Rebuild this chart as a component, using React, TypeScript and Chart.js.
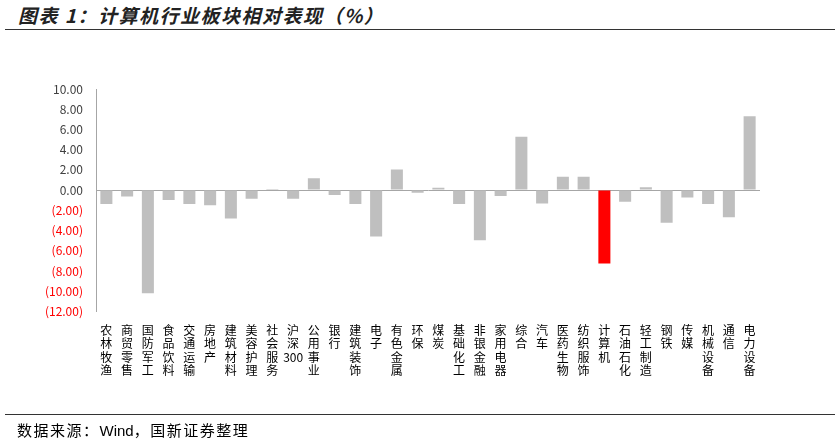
import React, { useEffect, useRef } from "react";
import { Chart, registerables } from "chart.js";

Chart.register(...registerables);

const categories: string[] = [
  "农林牧渔", "商贸零售", "国防军工", "食品饮料", "交通运输", "房地产", "建筑材料", "美容护理",
  "社会服务", "沪深300", "公用事业", "银行", "建筑装饰", "电子", "有色金属", "环保",
  "煤炭", "基础化工", "非银金融", "家用电器", "综合", "汽车", "医药生物", "纺织服饰",
  "计算机", "石油石化", "轻工制造", "钢铁", "传媒", "机械设备", "通信", "电力设备",
];

const values: number[] = [
  -1.38, -0.63, -10.2, -0.98, -1.38, -1.51, -2.82, -0.86,
  0.02, -0.86, 1.18, -0.49, -1.38, -4.6, 2.03, -0.27,
  0.23, -1.38, -4.95, -0.59, 5.27, -1.32, 1.31, 1.31,
  -7.25, -1.15, 0.29, -3.22, -0.73, -1.38, -2.69, 7.3,
];

const highlight = "计算机";
const yMin = -12;
const yMax = 10;
const yStep = 2;

function splitLabel(s: string): string[] {
  const out: string[] = [];
  let buf = "";
  for (const ch of s) {
    if (/[0-9]/.test(ch)) {
      buf += ch;
    } else {
      if (buf) { out.push(buf); buf = ""; }
      out.push(ch);
    }
  }
  if (buf) out.push(buf);
  return out;
}

export default function App() {
  const ref = useRef<HTMLCanvasElement | null>(null);

  useEffect(() => {
    if (!ref.current) return;
    const chart = new Chart(ref.current, {
      type: "bar",
      data: {
        labels: categories.map(splitLabel),
        datasets: [
          {
            data: values,
            backgroundColor: categories.map((c) => (c === highlight ? "#FF0000" : "#BFBFBF")),
            borderWidth: 0,
            categoryPercentage: 1,
            barPercentage: 0.58,
          },
        ],
      },
      options: {
        animation: false,
        responsive: false,
        maintainAspectRatio: false,
        layout: { padding: { top: 89, right: 80, left: 0, bottom: 0 } },
        plugins: { legend: { display: false }, tooltip: { enabled: false } },
        scales: {
          x: {
            grid: { display: false },
            border: { display: false },
            ticks: {
              autoSkip: false,
              maxRotation: 0,
              minRotation: 0,
              padding: 4,
              color: "#000000",
              font: { family: "'Noto Sans CJK SC'", size: 12, lineHeight: 1.12 },
            },
            afterFit: (scale: any) => {
              scale.height = 443 - 311.4;
            },
          },
          y: {
            min: yMin,
            max: yMax,
            border: { display: true, color: "#A6A6A6", width: 1 },
            grid: {
              drawTicks: false,
              color: (ctx: any) => (ctx.tick && ctx.tick.value === 0 ? "#A6A6A6" : "rgba(0,0,0,0)"),
              lineWidth: 1,
            },
            ticks: {
              stepSize: yStep,
              padding: 13,
              color: (ctx: any) => (ctx.tick && ctx.tick.value < 0 ? "#FF0000" : "#404040"),
              font: { family: "'Noto Sans CJK SC'", size: 12 },
              callback: (v: any) => {
                const n = Number(v);
                return n < 0 ? `(${Math.abs(n).toFixed(2)})` : n.toFixed(2);
              },
            },
            afterFit: (scale: any) => {
              scale.width = 96;
            },
          },
        },
      },
    });
    return () => chart.destroy();
  }, []);

  return (
    <div style={{ position: "absolute", left: 0, top: 0, width: 840, height: 443, background: "#fff", overflow: "hidden" }}>
      <div
        style={{
          position: "absolute", left: 18, top: 3, fontFamily: "'Noto Sans CJK SC'", fontSize: 19,
          fontWeight: 700, fontStyle: "italic", color: "#222", whiteSpace: "nowrap", lineHeight: "24px",
          letterSpacing: "1.5px",
        }}
      >
        图表 1：计算机行业板块相对表现（%）
      </div>
      <div style={{ position: "absolute", left: 5, top: 29, width: 830, height: 1, background: "#333" }} />
      <canvas ref={ref} width={840} height={443} style={{ position: "absolute", left: 0, top: 0 }} />
      <div style={{ position: "absolute", left: 5, top: 414, width: 830, height: 1, background: "#333" }} />
      <div
        style={{
          position: "absolute", left: 17, top: 420, fontFamily: "'Noto Sans CJK SC'", fontSize: 15,
          color: "#000", whiteSpace: "nowrap", lineHeight: "20px", letterSpacing: "1.5px",
        }}
      >
        数据来源：<span style={{ fontFamily: "'Liberation Sans'", letterSpacing: "0px" }}>Wind</span>，国新证券整理
      </div>
    </div>
  );
}
